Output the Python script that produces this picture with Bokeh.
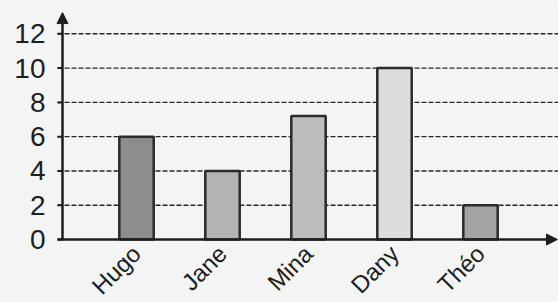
from math import pi
from bokeh.plotting import figure
from bokeh.models import Arrow, NormalHead, ColumnDataSource, Range1d
from bokeh.core.properties import value
from bokeh.embed import file_html
from bokeh.resources import INLINE

names = ["Hugo", "Jane", "Mina", "Dany", "Théo"]
values = [6, 4, 7.2, 10, 2]
colors = ["#8e8c8e", "#b4b2b4", "#bebcbe", "#dedcde", "#a4a2a4"]
y_ticks = [0, 2, 4, 6, 8, 10, 12]

BG = "#f4f4f4"
INK = "#1e1e1e"
FONT = value("Liberation Sans")

# frame covers the whole canvas; axes drawn by hand in data units
X0, X1 = -1.5814, 4.907
Y0, Y1 = -3.676, 13.944
AX = -0.8605      # position of the vertical axis (data units)
TICK_L = -0.9186  # left end of tick marks / grid lines
XEND = 4.895      # tip of the x-axis arrow
YEND = 13.24      # tip of the y-axis arrow

xpos = list(range(len(names)))
bars = ColumnDataSource(dict(x=xpos, top=values, color=colors, name=names))
ticks = ColumnDataSource(dict(y=y_ticks, label=[str(t) for t in y_ticks]))
grid = ColumnDataSource(dict(y=y_ticks[1:]))

p = figure(width=558, height=302,
           x_range=Range1d(X0, X1), y_range=Range1d(Y0, Y1),
           output_backend="svg", toolbar_location=None,
           x_axis_location=None, y_axis_location=None,
           min_border=0)
p.background_fill_color = BG
p.border_fill_color = BG
p.outline_line_color = None
p.grid.visible = False

# dashed horizontal grid lines
p.segment(x0=TICK_L, x1=X1, y0="y", y1="y", source=grid,
          line_color="#262626", line_width=1.4, line_dash="5 2")
# tick marks
p.segment(x0=TICK_L, x1=AX, y0="y", y1="y", source=ticks,
          line_color=INK, line_width=2)
# y tick labels
p.text(x=AX, y="y", text="label", source=ticks, x_offset=-17,
       text_align="right", text_baseline="middle",
       text_font=FONT, text_font_size="28px", text_color=INK)

# bars
p.vbar(x="x", top="top", bottom=0, width=0.4, fill_color="color",
       line_color="#2a2a2a", line_width=2.5, source=bars)

# category labels, rotated
p.text(x="x", y=0, text="name", source=bars, angle=pi / 4,
       x_offset=0, y_offset=10,
       text_align="right", text_baseline="middle",
       text_font=FONT, text_font_size="24px", text_color=INK)

# axes with arrow heads
p.add_layout(Arrow(x_start=TICK_L, y_start=0, x_end=XEND, y_end=0,
                   line_width=2.5, line_color=INK,
                   end=NormalHead(size=11, fill_color=INK, line_color=INK)))
p.add_layout(Arrow(x_start=AX, y_start=-0.05, x_end=AX, y_end=YEND,
                   line_width=2.5, line_color=INK,
                   end=NormalHead(size=11, fill_color=INK, line_color=INK)))

open("out.html", "w").write(file_html(p, INLINE))
